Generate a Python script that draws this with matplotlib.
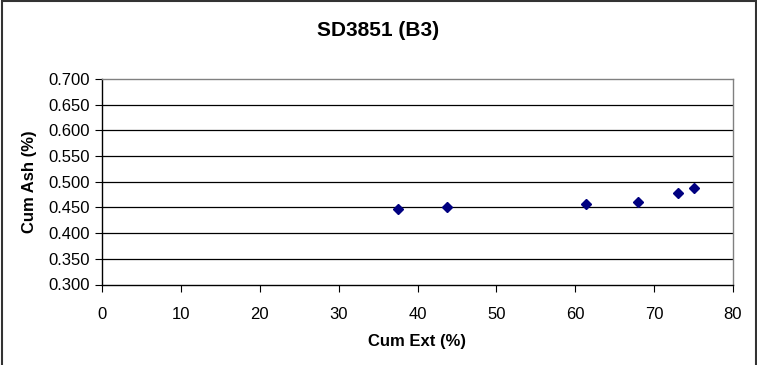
import matplotlib
matplotlib.use("Agg")
import matplotlib.pyplot as plt
from matplotlib.patches import Rectangle

plt.rcParams['font.family'] = ['Liberation Sans', 'DejaVu Sans']

# Cumulative extraction vs cumulative ash
cum_ext = [37.5, 43.8, 61.3, 67.9, 73.0, 75.1]
cum_ash = [0.447, 0.451, 0.456, 0.460, 0.478, 0.487]

x_ticks = [0, 10, 20, 30, 40, 50, 60, 70, 80]
y_ticks = [0.300, 0.350, 0.400, 0.450, 0.500, 0.550, 0.600, 0.650, 0.700]

fig = plt.figure(figsize=(7.57, 3.65), dpi=100)
ax = fig.add_axes([102 / 757, 1 - 284.5 / 365, (733 - 102) / 757, (284.5 - 79) / 365])

ax.set_xlim(0, 80)
ax.set_ylim(0.3, 0.7)
ax.set_xticks(x_ticks)
ax.set_yticks(y_ticks)
ax.set_yticklabels([f"{v:.3f}" for v in y_ticks])
ax.tick_params(direction='out', length=5, width=0.8, labelsize=12, colors='black', pad=4)
ax.tick_params(axis='x', pad=11)

for v in y_ticks[1:-1]:
    ax.axhline(v, color='black', linewidth=0.9, zorder=1)

ax.spines['left'].set_color('black')
ax.spines['bottom'].set_color('black')
ax.spines['top'].set_color('#808080')
ax.spines['right'].set_color('#808080')
for s in ax.spines.values():
    s.set_linewidth(1.0)

ax.plot(cum_ext, cum_ash, linestyle='none', marker='D', markersize=5.5,
        color='#000080', zorder=3, clip_on=False)

ax.set_xlabel('Cum Ext (%)', fontsize=12, fontweight='bold', labelpad=9)
ax.set_ylabel('Cum Ash (%)', fontsize=12, fontweight='bold', labelpad=8)

fig.text(0.5, 1 - 30 / 365, 'SD3851 (B3)', ha='center', va='center',
         fontsize=15, fontweight='bold')

# Chart frame
fig.patches.append(Rectangle((1.5 / 757, -0.05), (755.5 - 1.5) / 757, 1.05 - 1.5 / 365,
                             transform=fig.transFigure, fill=False,
                             edgecolor='#333333', linewidth=1.5))

fig.savefig('out.png', dpi=100)
